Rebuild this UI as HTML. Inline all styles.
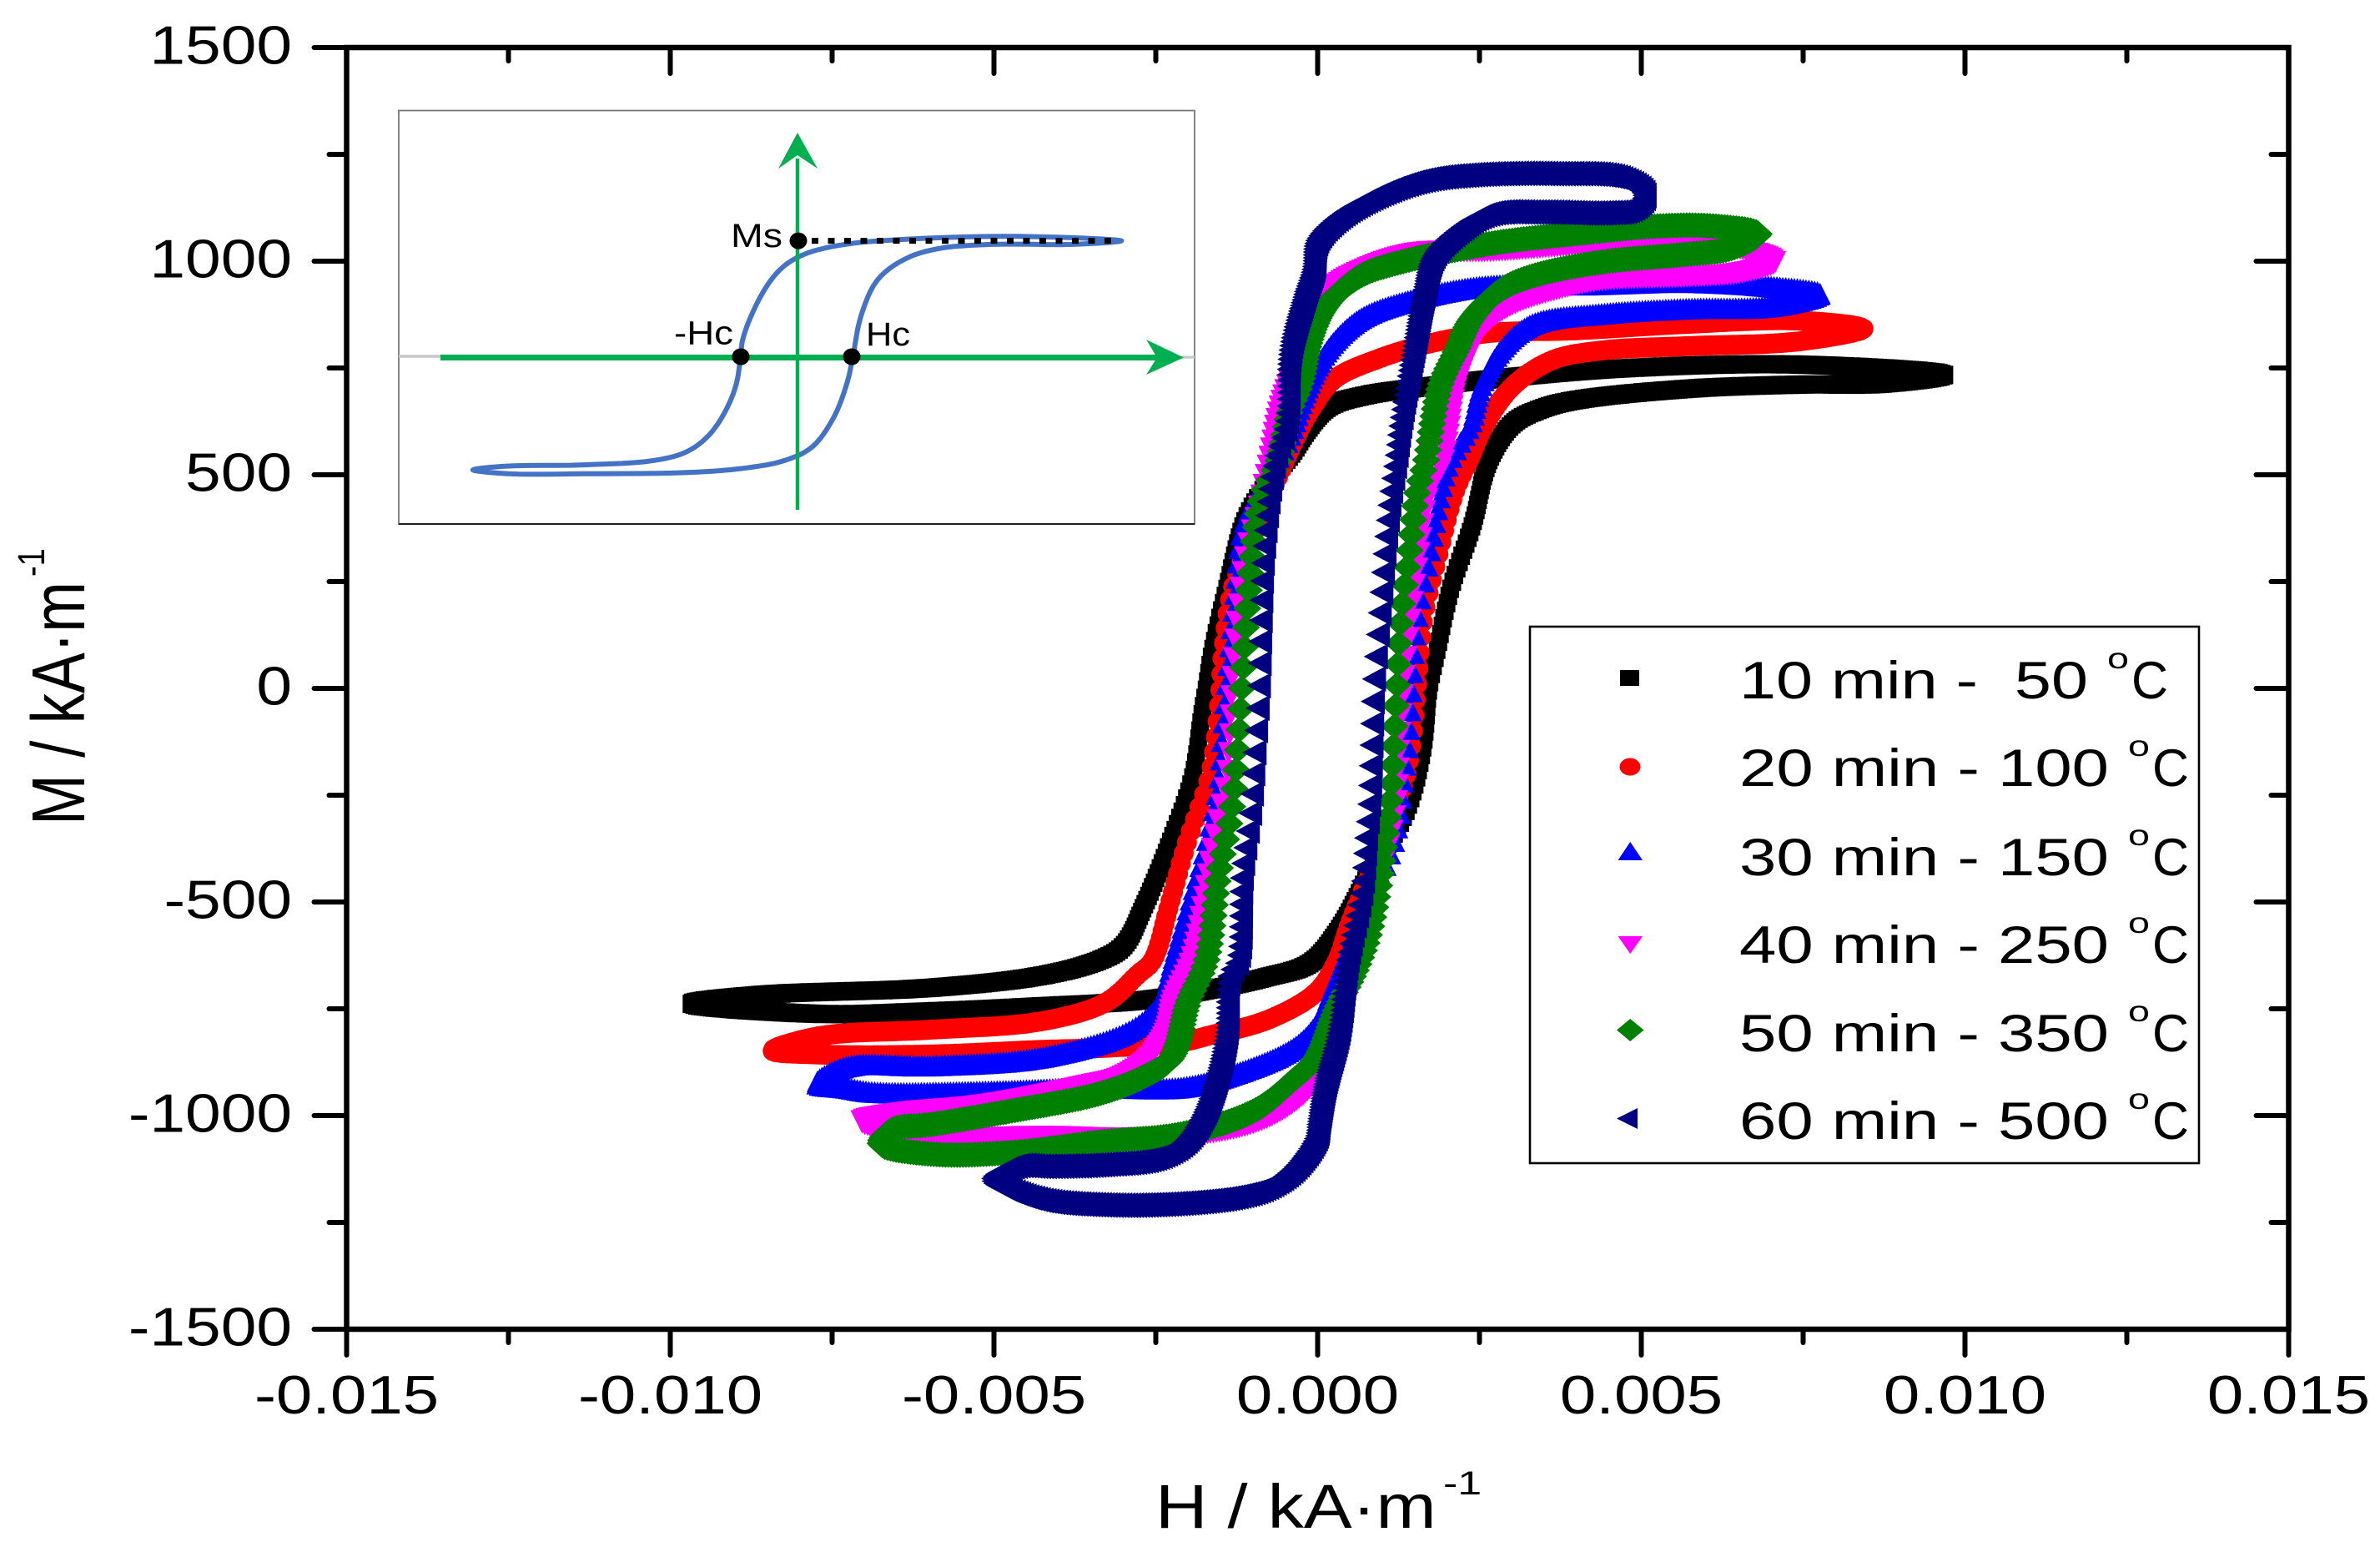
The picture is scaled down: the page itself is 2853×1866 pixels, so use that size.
<!DOCTYPE html>
<html lang="en">
<head>
<meta charset="utf-8">
<title>Magnetic hysteresis loops</title>
<style>
html,body{margin:0;padding:0;background:#fff;}
svg{display:block;font-family:"Liberation Sans",sans-serif;}
</style>
</head>
<body>
<svg id="chart" xmlns="http://www.w3.org/2000/svg" width="2853" height="1866" viewBox="0 0 2853 1866">
  <rect x="0" y="0" width="2853" height="1866" fill="#fff"/>
  <g id="series-layer"></g>
  <g id="axes-layer"></g>

  <g fill="#000">
    <text transform="translate(101,989) rotate(-90) scale(1,1.23)" font-size="73">M / kA·m</text>
    <text transform="translate(53,691) rotate(-90) scale(1,1.2)" font-size="38">-1</text>
  </g>
  <g fill="#000">
    <text transform="translate(1385,1831) scale(1.17,1)" font-size="74">H / kA·m</text>
    <text transform="translate(1730,1791) scale(1.3,1)" font-size="40">-1</text>
  </g>

  <g id="inset">
    <rect x="478" y="132.5" width="954" height="495.5" fill="#fff" stroke="#777" stroke-width="1.8"/>
    <line x1="478" y1="628" x2="1432" y2="628" stroke="#111" stroke-width="1.8"/>
    <line x1="478" y1="427" x2="1432" y2="428" stroke="#c8c8c8" stroke-width="3.5"/>
    <path id="inset-curve" fill="none" stroke="#4472c4" stroke-width="6" stroke-linejoin="round"/>
    <line x1="528" y1="428.5" x2="1395" y2="428.5" stroke="#00b050" stroke-width="7"/>
    <polygon points="1374,407 1419,428.5 1374,449 1387,428.5" fill="#00b050"/>
    <line x1="956" y1="190" x2="956" y2="611" stroke="#00b050" stroke-width="4.5"/>
    <polygon points="956,159 980,202 956,186 933,202" fill="#00b050"/>
    <line x1="973" y1="288.6" x2="1333" y2="288.6" stroke="#000" stroke-width="7" stroke-dasharray="8 11.5"/>
    <ellipse cx="957" cy="288.6" rx="10.5" ry="10" fill="#000"/>
    <ellipse cx="888" cy="427.5" rx="10.5" ry="10" fill="#000"/>
    <ellipse cx="1021" cy="427.5" rx="10.5" ry="10" fill="#000"/>
    <text x="876" y="296" font-size="40" textLength="62" lengthAdjust="spacingAndGlyphs" fill="#000">Ms</text>
    <text x="808" y="412.5" font-size="40" textLength="71" lengthAdjust="spacingAndGlyphs" fill="#000">-Hc</text>
    <text x="1038" y="414" font-size="40" textLength="53" lengthAdjust="spacingAndGlyphs" fill="#000">Hc</text>
  </g>

  <g id="legend" fill="#000">
    <rect x="1834" y="751" width="802" height="643" fill="#fff" stroke="#000" stroke-width="2.6"/>
    <g>
      <rect x="1942" y="803" width="23" height="19" fill="#000"/>
      <text x="2085" y="837" font-size="63" textLength="418" lengthAdjust="spacingAndGlyphs" xml:space="preserve" style="white-space:pre">10 min -  50</text>
      <text x="2526" y="801" font-size="35" textLength="26" lengthAdjust="spacingAndGlyphs">o</text>
      <text x="2555" y="837" font-size="63" textLength="44" lengthAdjust="spacingAndGlyphs">C</text>
    </g>
    <g>
      <ellipse cx="1954" cy="919" rx="12.5" ry="10.5" fill="#ff0000"/>
      <text x="2085" y="942" font-size="63" textLength="443" lengthAdjust="spacingAndGlyphs">20 min - 100</text>
      <text x="2551" y="906" font-size="35" textLength="26" lengthAdjust="spacingAndGlyphs">o</text>
      <text x="2580" y="942" font-size="63" textLength="44" lengthAdjust="spacingAndGlyphs">C</text>
    </g>
    <g>
      <polygon points="1939.5,1031 1969,1031 1954.2,1009" fill="#0000ff"/>
      <text x="2085" y="1049" font-size="63" textLength="443" lengthAdjust="spacingAndGlyphs">30 min - 150</text>
      <text x="2551" y="1013" font-size="35" textLength="26" lengthAdjust="spacingAndGlyphs">o</text>
      <text x="2580" y="1049" font-size="63" textLength="44" lengthAdjust="spacingAndGlyphs">C</text>
    </g>
    <g>
      <polygon points="1939.5,1122 1969,1122 1954.2,1143" fill="#ff00ff"/>
      <text x="2085" y="1154" font-size="63" textLength="443" lengthAdjust="spacingAndGlyphs">40 min - 250</text>
      <text x="2551" y="1118" font-size="35" textLength="26" lengthAdjust="spacingAndGlyphs">o</text>
      <text x="2580" y="1154" font-size="63" textLength="44" lengthAdjust="spacingAndGlyphs">C</text>
    </g>
    <g>
      <polygon points="1938,1234.5 1954.2,1221 1970.5,1234.5 1954.2,1248" fill="#008000"/>
      <text x="2085" y="1260" font-size="63" textLength="443" lengthAdjust="spacingAndGlyphs">50 min - 350</text>
      <text x="2551" y="1224" font-size="35" textLength="26" lengthAdjust="spacingAndGlyphs">o</text>
      <text x="2580" y="1260" font-size="63" textLength="44" lengthAdjust="spacingAndGlyphs">C</text>
    </g>
    <g>
      <polygon points="1938,1340.5 1963,1328 1963,1353" fill="#000080"/>
      <text x="2085" y="1365" font-size="63" textLength="443" lengthAdjust="spacingAndGlyphs">60 min - 500</text>
      <text x="2551" y="1329" font-size="35" textLength="26" lengthAdjust="spacingAndGlyphs">o</text>
      <text x="2580" y="1365" font-size="63" textLength="44" lengthAdjust="spacingAndGlyphs">C</text>
    </g>
  </g>
</svg>

<script>
const SVGNS = 'http://www.w3.org/2000/svg';

const xMajorTicks = [-0.015, -0.010, -0.005, 0.000, 0.005, 0.010, 0.015];
const xTickLabels = ['-0.015', '-0.010', '-0.005', '0.000', '0.005', '0.010', '0.015'];
const xMinorTicks = [-0.0125, -0.0075, -0.0025, 0.0025, 0.0075, 0.0125];
const yMajorTicks = [-1500, -1000, -500, 0, 500, 1000, 1500];
const yTickLabels = ['-1500', '-1000', '-500', '0', '500', '1000', '1500'];
const yMinorTicks = [-1250, -750, -250, 250, 750, 1250];

const blackH = [0.00969,0.00742,0.00483,0.00310,0.00172,0.00068,0.00016,-0.00017,-0.00037,-0.00063,-0.00088,-0.00114,-0.00140,-0.00163,-0.00172,-0.00179,-0.00194,-0.00228,-0.00269,-0.00300,-0.00338,-0.00425,-0.00598,-0.00857,-0.00969,-0.00770,-0.00598,-0.00425,-0.00270,-0.00166,-0.00079,-0.00011,0.00033,0.00079,0.00137,0.00163,0.00172,0.00184,0.00206,0.00240,0.00264,0.00301,0.00345,0.00396,0.00569,0.00742,0.00871];
const blackM = [734,758,750,730,707,684,658,602,555,506,457,387,236,86,0,-62,-213,-361,-512,-603,-637,-672,-701,-717,-738,-762,-756,-744,-730,-705,-676,-643,-564,-436,-287,-137,0,86,236,387,531,619,654,674,701,711,713];

const redH = [0.00843,0.00742,0.00569,0.00396,0.00266,0.00172,0.00093,0.00025,-0.00010,-0.00035,-0.00088,-0.00131,-0.00146,-0.00150,-0.00159,-0.00168,-0.00202,-0.00230,-0.00255,-0.00278,-0.00326,-0.00425,-0.00598,-0.00770,-0.00843,-0.00770,-0.00598,-0.00425,-0.00338,-0.00210,-0.00166,-0.00079,-0.00002,0.00030,0.00050,0.00105,0.00135,0.00144,0.00153,0.00163,0.00186,0.00212,0.00233,0.00259,0.00301,0.00362,0.00439,0.00569,0.00742];
const redM = [842,861,853,838,832,807,771,723,654,584,398,236,86,0,-137,-213,-361,-512,-637,-670,-734,-779,-799,-814,-848,-857,-857,-846,-842,-828,-812,-777,-711,-637,-549,-344,-213,-137,0,162,311,461,531,619,707,768,791,801,812];

const blueH = [0.00776,0.00698,0.00569,0.00414,0.00253,0.00137,0.00068,0.00025,-0.00001,-0.00023,-0.00044,-0.00114,-0.00127,-0.00137,-0.00142,-0.00149,-0.00153,-0.00172,-0.00200,-0.00224,-0.00243,-0.00287,-0.00425,-0.00598,-0.00728,-0.00774,-0.00728,-0.00684,-0.00511,-0.00338,-0.00210,-0.00123,-0.00037,-0.00002,0.00028,0.00073,0.00118,0.00133,0.00144,0.00146,0.00154,0.00173,0.00191,0.00204,0.00237,0.00253,0.00284,0.00332,0.00439,0.00569,0.00698];
const blueM = [924,941,951,945,941,906,867,810,750,672,584,387,236,86,0,-137,-213,-361,-512,-637,-734,-799,-863,-883,-885,-924,-935,-945,-943,-934,-934,-900,-842,-787,-682,-519,-361,-213,-62,0,162,311,461,531,619,707,793,853,877,889,894];

const magentaH = [0.00707,0.00569,0.00396,0.00266,0.00154,0.00077,0.00020,0.00003,-0.00019,-0.00044,-0.00062,-0.00075,-0.00091,-0.00112,-0.00125,-0.00133,-0.00137,-0.00142,-0.00162,-0.00179,-0.00197,-0.00226,-0.00235,-0.00261,-0.00304,-0.00357,-0.00511,-0.00641,-0.00706,-0.00598,-0.00425,-0.00296,-0.00166,-0.00088,-0.00037,-0.00002,0.00033,0.00068,0.00101,0.00121,0.00127,0.00133,0.00144,0.00157,0.00173,0.00195,0.00215,0.00237,0.00259,0.00301,0.00371,0.00439,0.00569,0.00656];
const magentaM = [998,1051,1037,1023,1019,984,934,881,793,723,644,541,428,311,162,0,-137,-213,-361,-512,-637,-734,-799,-865,-910,-930,-975,-994,-1014,-1051,-1049,-1053,-1041,-1012,-969,-916,-799,-603,-428,-287,-137,0,162,311,461,531,707,793,853,898,934,955,963,973];

const greenH = [0.00681,0.00612,0.00525,0.00396,0.00266,0.00119,0.00068,0.00025,0.00003,-0.00014,-0.00026,-0.00044,-0.00061,-0.00087,-0.00101,-0.00110,-0.00117,-0.00123,-0.00133,-0.00153,-0.00172,-0.00200,-0.00226,-0.00270,-0.00338,-0.00469,-0.00598,-0.00658,-0.00675,-0.00598,-0.00469,-0.00338,-0.00210,-0.00097,-0.00037,-0.00002,0.00028,0.00060,0.00079,0.00095,0.00105,0.00114,0.00118,0.00122,0.00128,0.00141,0.00154,0.00167,0.00189,0.00215,0.00237,0.00284,0.00336,0.00439,0.00569,0.00638];
const greenM = [1064,1082,1082,1064,1041,994,967,916,871,803,715,644,531,445,311,162,0,-137,-287,-436,-637,-734,-865,-910,-949,-988,-1021,-1033,-1066,-1090,-1086,-1062,-1043,-988,-916,-865,-754,-656,-578,-461,-344,-227,-109,0,162,311,461,531,707,793,863,934,967,998,1016,1029];

const navyH = [0.00505,0.00465,0.00353,0.00224,0.00154,0.00086,0.00033,-0.00001,-0.00006,-0.00019,-0.00042,-0.00048,-0.00066,-0.00084,-0.00088,-0.00091,-0.00097,-0.00104,-0.00117,-0.00123,-0.00136,-0.00140,-0.00153,-0.00175,-0.00204,-0.00252,-0.00338,-0.00425,-0.00469,-0.00502,-0.00443,-0.00338,-0.00210,-0.00123,-0.00079,-0.00037,-0.00002,0.00002,0.00011,0.00033,0.00046,0.00068,0.00075,0.00079,0.00083,0.00086,0.00095,0.00103,0.00112,0.00121,0.00128,0.00148,0.00164,0.00179,0.00211,0.00259,0.00336,0.00439,0.00483];
const navyM = [1154,1195,1205,1201,1187,1150,1103,1047,984,924,793,619,535,311,162,0,-137,-287,-436,-637,-670,-799,-896,-994,-1060,-1100,-1115,-1119,-1119,-1150,-1193,-1209,-1205,-1189,-1168,-1125,-1051,-1014,-930,-799,-637,-475,-344,-287,-137,0,162,311,445,535,619,793,924,1012,1064,1109,1115,1113,1121];

const insetU = [5.97,4.07,2.07,0.87,0.17,-0.23,-0.53,-0.83,-1.01,-1.05,-1.13,-1.33,-1.63,-2.03,-2.63,-3.93,-5.43,-5.98,-5.33,-3.93,-1.93,-0.93,-0.23,0.27,0.67,0.92,1.02,1.17,1.47,1.97,2.57,3.57,5.07];
const insetV = [3.89,4.04,3.95,3.77,3.47,3.07,2.47,1.47,0.57,0,-0.93,-1.83,-2.63,-3.18,-3.48,-3.63,-3.68,-3.80,-3.93,-3.93,-3.88,-3.73,-3.48,-3.03,-2.03,-0.83,0,1.37,2.57,3.27,3.62,3.77,3.77];

const PLOT = {left: 415.5, right: 2743.5, top: 57, bottom: 1593};
function xScale(h) { return PLOT.left + (h + 0.015) / 0.03 * (PLOT.right - PLOT.left); }
function yScale(m) { return PLOT.bottom - (m + 1500) / 3000 * (PLOT.bottom - PLOT.top); }
function yInvert(y) { return (PLOT.bottom - y) / (PLOT.bottom - PLOT.top) * 3000 - 1500; }
function insetX(u) { return 956 + u * 65.06; }
function insetY(v) { return 427.5 - v * 35.7; }

const axesLayer = document.getElementById('axes-layer');
const seriesLayer = document.getElementById('series-layer');

function tickLine(x1, y1, x2, y2, width) {
  const line = document.createElementNS(SVGNS, 'line');
  line.setAttribute('x1', x1);
  line.setAttribute('y1', y1);
  line.setAttribute('x2', x2);
  line.setAttribute('y2', y2);
  line.setAttribute('stroke', '#000');
  line.setAttribute('stroke-width', width);
  line.setAttribute('stroke-linecap', 'round');
  axesLayer.appendChild(line);
  return line;
}

const frame = document.createElementNS(SVGNS, 'rect');
frame.setAttribute('x', PLOT.left);
frame.setAttribute('y', PLOT.top);
frame.setAttribute('width', PLOT.right - PLOT.left);
frame.setAttribute('height', PLOT.bottom - PLOT.top);
frame.setAttribute('fill', 'none');
frame.setAttribute('stroke', '#000');
frame.setAttribute('stroke-width', 6.5);


axesLayer.appendChild(frame);

xMajorTicks.forEach(function (v, i) {
  const x = xScale(v);
  const bottomTick = tickLine(x, PLOT.bottom, x, PLOT.bottom + 31, 6);
  
  
  const topTick = tickLine(x, PLOT.top, x, PLOT.top + 31, 6);
  
  
  const label = document.createElementNS(SVGNS, 'text');
  label.setAttribute('transform', 'translate(' + x + ',1694) scale(1.2,1)');
  label.setAttribute('text-anchor', 'middle');
  label.setAttribute('font-size', '65');
  label.setAttribute('fill', '#000');
  
  
  label.textContent = xTickLabels[i];
  axesLayer.appendChild(label);
});
xMinorTicks.forEach(function (v) {
  const x = xScale(v);
  const bottomTick = tickLine(x, PLOT.bottom, x, PLOT.bottom + 16, 6);
  
  
  const topTick = tickLine(x, PLOT.top, x, PLOT.top + 16, 6);
  
  
});
yMajorTicks.forEach(function (v, i) {
  const y = yScale(v);
  const leftTick = tickLine(PLOT.left, y, PLOT.left - 39, y, 6);
  
  
  const rightTick = tickLine(PLOT.right, y, PLOT.right - 39, y, 6);
  
  
  const label = document.createElementNS(SVGNS, 'text');
  label.setAttribute('transform', 'translate(350,' + (y + 19.5) + ') scale(1.18,1)');
  label.setAttribute('text-anchor', 'end');
  label.setAttribute('font-size', '65');
  label.setAttribute('fill', '#000');
  
  
  label.textContent = yTickLabels[i];
  axesLayer.appendChild(label);
});
yMinorTicks.forEach(function (v) {
  const y = yScale(v);
  const leftTick = tickLine(PLOT.left, y, PLOT.left - 21, y, 6);
  
  
  const rightTick = tickLine(PLOT.right, y, PLOT.right - 21, y, 6);
  
  
});

function squareAt(x, y, w, h) {
  return 'M' + (x - w / 2) + ' ' + (y - h / 2) + 'h' + w + 'v' + h + 'h' + (-w) + 'z';
}
function circleAt(x, y, w, h) {
  const rx = w / 2, ry = h / 2;
  return 'M' + (x - rx) + ' ' + y + 'a' + rx + ' ' + ry + ' 0 1 0 ' + w + ' 0a' + rx + ' ' + ry + ' 0 1 0 ' + (-w) + ' 0z';
}
function upAt(x, y, w, h) {
  return 'M' + (x - w / 2) + ' ' + (y + h / 2) + 'h' + w + 'L' + x + ' ' + (y - h / 2) + 'z';
}
function downAt(x, y, w, h) {
  return 'M' + (x - w / 2) + ' ' + (y - h / 2) + 'h' + w + 'L' + x + ' ' + (y + h / 2) + 'z';
}
function diamondAt(x, y, w, h) {
  return 'M' + (x - w / 2) + ' ' + y + 'L' + x + ' ' + (y - h / 2) + 'L' + (x + w / 2) + ' ' + y + 'L' + x + ' ' + (y + h / 2) + 'z';
}
function leftAt(x, y, w, h) {
  return 'M' + (x - w / 2) + ' ' + y + 'L' + (x + w / 2) + ' ' + (y - h / 2) + 'V' + (y + h / 2) + 'z';
}

/* centripetal Catmull-Rom through the read points, so the loop is drawn as a smooth curve */
function smoothClosed(pts, closed, sub) {
  const n = pts.length;
  const out = [];
  function pick(i) {
    if (closed) return pts[(i + n) % n];
    return pts[Math.max(0, Math.min(n - 1, i))];
  }
  const last = closed ? n : n - 1;
  for (let i = 0; i < last; i++) {
    const p0 = pick(i - 1), p1 = pick(i), p2 = pick(i + 1), p3 = pick(i + 2);
    const t0 = 0;
    const t1 = t0 + Math.max(1e-3, Math.sqrt(Math.hypot(p1[0] - p0[0], p1[1] - p0[1])));
    const t2 = t1 + Math.max(1e-3, Math.sqrt(Math.hypot(p2[0] - p1[0], p2[1] - p1[1])));
    const t3 = t2 + Math.max(1e-3, Math.sqrt(Math.hypot(p3[0] - p2[0], p3[1] - p2[1])));
    for (let k = 0; k < sub; k++) {
      const t = t1 + (t2 - t1) * k / sub;
      const pt = [0, 1].map(function (c) {
        const a1 = p0[c] * (t1 - t) / (t1 - t0) + p1[c] * (t - t0) / (t1 - t0);
        const a2 = p1[c] * (t2 - t) / (t2 - t1) + p2[c] * (t - t1) / (t2 - t1);
        const a3 = p2[c] * (t3 - t) / (t3 - t2) + p3[c] * (t - t2) / (t3 - t2);
        const b1 = a1 * (t2 - t) / (t2 - t0) + a2 * (t - t0) / (t2 - t0);
        const b2 = a2 * (t3 - t) / (t3 - t1) + a3 * (t - t1) / (t3 - t1);
        return b1 * (t2 - t) / (t2 - t1) + b2 * (t - t1) / (t2 - t1);
      });
      out.push(pt);
    }
  }
  if (!closed) out.push(pts[n - 1]);
  return out;
}

function markerStep(m, maxStep) {
  return Math.max(3.5, maxStep * Math.exp(-(m / 625) * (m / 625)));
}

function loopMarkers(hs, ms, shape, w, h, maxStep) {
  const pts = smoothClosed(hs.map(function (v, i) { return [xScale(v), yScale(ms[i])]; }), true, 6);
  let d = '';
  let remaining = 0;
  for (let i = 0; i < pts.length; i++) {
    const a = pts[i], b = pts[(i + 1) % pts.length];
    const len = Math.hypot(b[0] - a[0], b[1] - a[1]);
    let pos = remaining;
    while (pos < len) {
      const t = len ? pos / len : 0;
      const x = a[0] + (b[0] - a[0]) * t;
      const y = a[1] + (b[1] - a[1]) * t;
      d += shape(+x.toFixed(1), +y.toFixed(1), w, h);
      pos += markerStep(yInvert(y), maxStep);
    }
    remaining = pos - len;
  }
  return d;
}

function addSeries(name, hs, ms, color, shape, w, h, maxStep) {
  const path = document.createElementNS(SVGNS, 'path');
  path.setAttribute('d', loopMarkers(hs, ms, shape, w, h, maxStep));
  path.setAttribute('fill', color);
  
  
  seriesLayer.appendChild(path);
}

addSeries('series-10min-50c', blackH, blackM, '#000000', squareAt, 20, 22, 10);
addSeries('series-20min-100c', redH, redM, '#ff0000', circleAt, 24, 24, 19);
addSeries('series-30min-150c', blueH, blueM, '#0000ff', upAt, 26, 26, 23);
addSeries('series-40min-250c', magentaH, magentaM, '#ff00ff', downAt, 26, 26, 23);
addSeries('series-50min-350c', greenH, greenM, '#008000', diamondAt, 34, 31, 25);
addSeries('series-60min-500c', navyH, navyM, '#000080', leftAt, 29, 31, 27);

const insetPts = smoothClosed(insetU.map(function (u, i) { return [insetX(u), insetY(insetV[i])]; }), true, 6);
let insetPath = '';
insetPts.forEach(function (p, i) {
  insetPath += (i ? 'L' : 'M') + p[0].toFixed(1) + ' ' + p[1].toFixed(1);
});
document.getElementById('inset-curve').setAttribute('d', insetPath + 'Z');
</script>
</body>
</html>
